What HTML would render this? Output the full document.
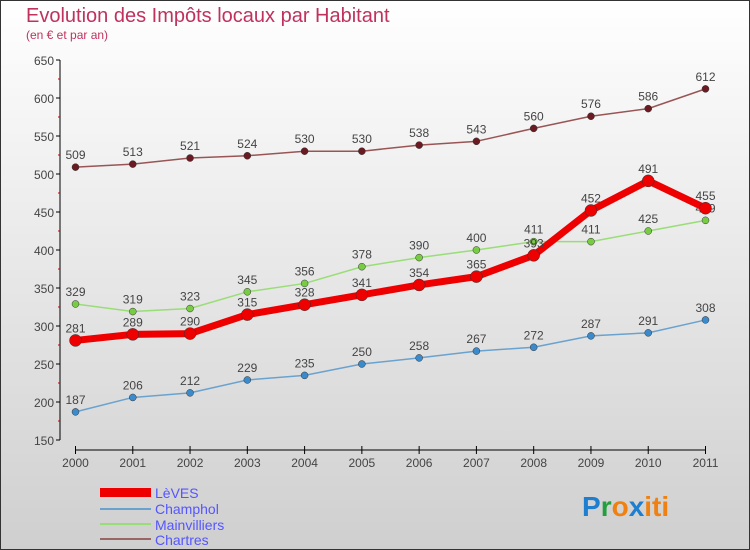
<!DOCTYPE html>
<html><head><meta charset="utf-8"><style>
body{margin:0;width:750px;height:550px;overflow:hidden}
svg{display:block;font-family:"Liberation Sans",sans-serif}
</style></head><body>
<svg width="750" height="550">
<defs><linearGradient id="bg" x1="0" y1="0" x2="0" y2="1"><stop offset="0" stop-color="#ffffff"/><stop offset="1" stop-color="#cfcfcf"/></linearGradient></defs>
<rect x="0.5" y="0.5" width="749" height="549" fill="url(#bg)" stroke="#333"/>
<text x="26" y="22" font-size="20" fill="#c0325e">Evolution des Impôts locaux par Habitant</text>
<text x="26" y="39" font-size="12" fill="#c0325e">(en € et par an)</text>
<g id="axes"></g><g id="series"></g>
<g>
<rect x="100" y="488" width="51" height="9" fill="#e00"/>
<text x="155" y="498" font-size="14" fill="#5555ff">LèVES</text>
<line x1="100" x2="151" y1="509" y2="509" stroke="#6aa2cf" stroke-width="2"/>
<text x="155" y="514" font-size="14" fill="#5555ff">Champhol</text>
<line x1="100" x2="151" y1="524" y2="524" stroke="#99dd77" stroke-width="2"/>
<text x="155" y="530" font-size="14" fill="#5555ff">Mainvilliers</text>
<line x1="100" x2="151" y1="539" y2="539" stroke="#996666" stroke-width="2"/>
<text x="155" y="545" font-size="14" fill="#5555ff">Chartres</text>
</g>
<text x="582" y="516" font-size="28" font-weight="bold"><tspan fill="#1e7fd0">P</tspan><tspan fill="#22a040">r</tspan><tspan fill="#f08010">o</tspan><tspan fill="#1e7fd0">x</tspan><tspan fill="#f08010">iti</tspan></text>
</svg>
<script>
const years=["2000","2001","2002","2003","2004","2005","2006","2007","2008","2009","2010","2011"];
const yTicks=[150,200,250,300,350,400,450,500,550,600,650];
const leves=[281,289,290,315,328,341,354,365,393,452,491,455];
const champhol=[187,206,212,229,235,250,258,267,272,287,291,308];
const mainvilliers=[329,319,323,345,356,378,390,400,411,411,425,439];
const chartres=[509,513,521,524,530,530,538,543,560,576,586,612];
const NS="http://www.w3.org/2000/svg";
function X(i){return 75.5+i*(705.5-75.5)/11;}
function Y(v){return 440-(v-150)*380/500;}
function mk(t,a,p){const e=document.createElementNS(NS,t);for(const k in a)e.setAttribute(k,a[k]);p.appendChild(e);return e;}
const ax=document.getElementById('axes');
mk('line',{x1:60,x2:60,y1:Y(650),y2:Y(150),stroke:'#000'},ax);
mk('line',{x1:X(0),x2:X(11),y1:450,y2:450,stroke:'#000'},ax);
yTicks.forEach(v=>{
 mk('line',{x1:56,x2:60,y1:Y(v),y2:Y(v),stroke:'#000'},ax);
 if(v<650)mk('line',{x1:58,x2:60,y1:Y(v+25),y2:Y(v+25),stroke:'#c00'},ax);
 const t=mk('text',{x:54,y:Y(v)+5,'font-size':12,'text-anchor':'end',fill:'#444'},ax);t.textContent=v;
 
 
});
years.forEach((y,i)=>{
 mk('line',{x1:X(i),x2:X(i),y1:446,y2:454,stroke:'#000'},ax);
 const t=mk('text',{x:X(i),y:467,'font-size':12,'text-anchor':'middle',fill:'#444'},ax);t.textContent=y;
 
 
});
const sg=document.getElementById('series');
function draw(name,data,color,dot,w,r){
 const g=mk('g',{},sg);
 
 
 mk('polyline',{points:data.map((v,i)=>X(i)+','+Y(v)).join(' '),fill:'none',stroke:color,'stroke-width':w,'stroke-linejoin':'round'},g);
 data.forEach((v,i)=>{
  const c=mk('circle',{cx:X(i),cy:Y(v),r:r,fill:dot,stroke:'#333','stroke-width':0.5},g);
  
  
  const t=mk('text',{x:X(i),y:Y(v)-8,'font-size':12,'text-anchor':'middle',fill:'#444'},g);t.textContent=v;
  
  
 });
}
draw('chartres',chartres,'#995555','#6b1a22',1.5,3.5);
draw('champhol',champhol,'#6aa2cf','#3b8acb',1.5,3.5);
draw('mainvilliers',mainvilliers,'#99dd77','#77cc44',1.5,3.5);
draw('leves',leves,'#ee0000','#ee0000',7,6);
</script>
</body></html>
